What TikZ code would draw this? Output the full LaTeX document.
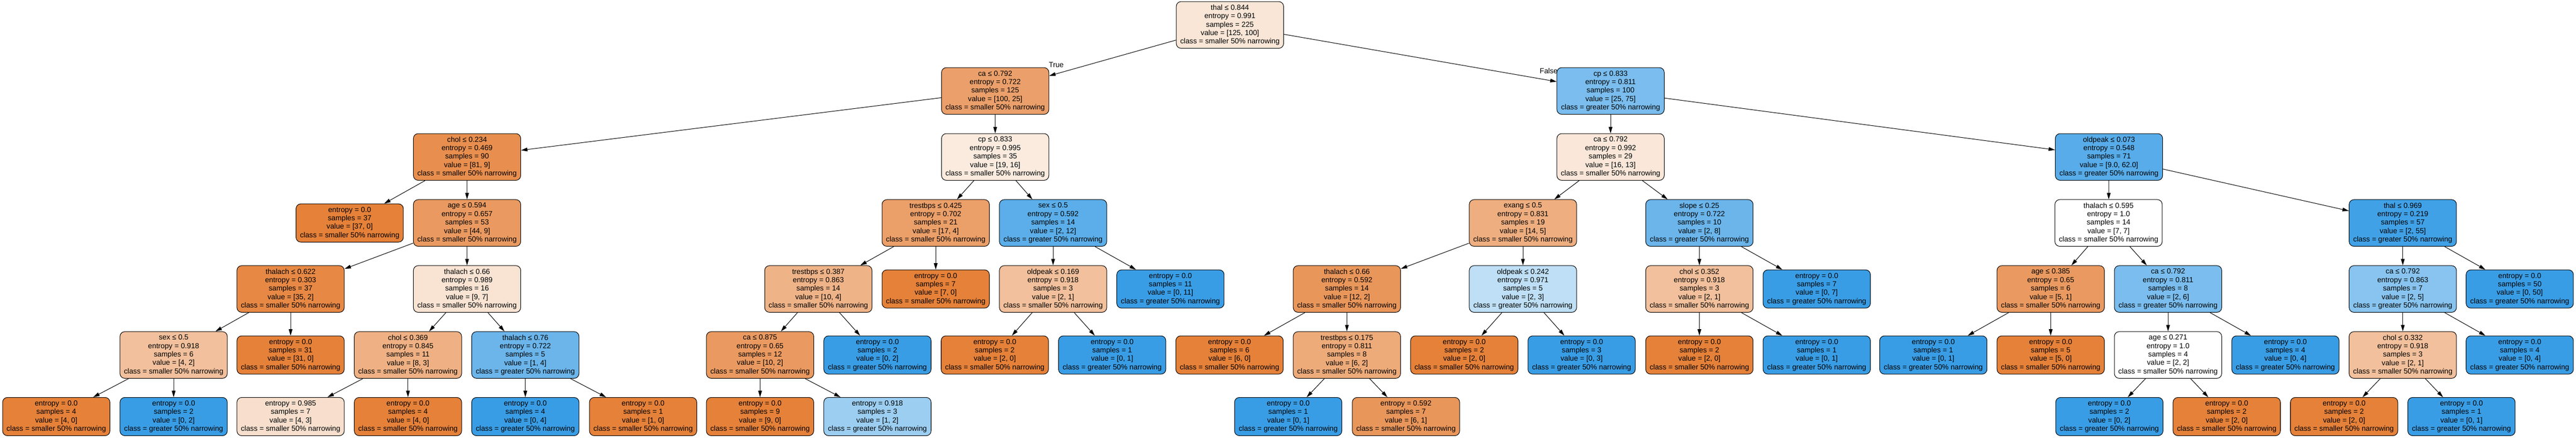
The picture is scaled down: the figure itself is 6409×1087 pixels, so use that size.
\documentclass[tikz,border=0pt]{standalone}
\usepackage{fontspec}
\setmainfont{Liberation Sans}
\usetikzlibrary{arrows.meta}
\definecolor{sko}{RGB}{229,129,57}
\definecolor{skb}{RGB}{57,157,229}
\tikzset{
  tbox/.style={draw=black, line width=0.65pt, rounded corners=6pt, align=center,
    minimum width=133.5pt, inner sep=2pt, font=\fontsize{9.1}{10.5}\selectfont},
  innerbox/.style={tbox, minimum height=58pt},
  leafbox/.style={tbox, minimum height=47.5pt},
  edgeline/.style={line width=0.65pt, -{Triangle[length=8pt,width=4.6pt]}},
  edgelabel/.style={font=\fontsize{9.1}{10.5}\selectfont, inner sep=0pt}
}
\newcommand{\TreeInner}[9]{\node[innerbox, fill=#4] (#1) at (#2,#3) {#5\\entropy = #6\\samples = #7\\value = [#8]\\class = #9 50\% narrowing};}
\newcommand{\TreeLeaf}[8]{\node[leafbox, fill=#4] (#1) at (#2,#3) {entropy = #5\\samples = #6\\value = [#7]\\class = #8 50\% narrowing};}
\begin{document}
\begin{tikzpicture}[x=0.5pt, y=-0.5pt]
\useasboundingbox[fill=white] (0,0) rectangle (6409,1087);
% rank 0
\TreeInner{root}{3060}{62}{sko!20}{thal ≤ 0.844}{0.991}{225}{125, 100}{smaller}
% rank 1
\TreeInner{caA}{2476}{226}{sko!75}{ca ≤ 0.792}{0.722}{125}{100, 25}{smaller}
\TreeInner{cpA}{4007}{226}{skb!67}{cp ≤ 0.833}{0.811}{100}{25, 75}{greater}
% rank 2
\TreeInner{cholA}{1162}{390}{sko!89}{chol ≤ 0.234}{0.469}{90}{81, 9}{smaller}
\TreeInner{cpB}{2476}{390}{sko!16}{cp ≤ 0.833}{0.995}{35}{19, 16}{smaller}
\TreeInner{caB}{4007}{390}{sko!19}{ca ≤ 0.792}{0.992}{29}{16, 13}{smaller}
\TreeInner{oldA}{5247}{390}{skb!85}{oldpeak ≤ 0.073}{0.548}{71}{9.0, 62.0}{greater}
% rank 3
\TreeLeaf{lfA}{870}{554}{sko}{0.0}{37}{37, 0}{smaller}
\TreeInner{ageA}{1162}{554}{sko!80}{age ≤ 0.594}{0.657}{53}{44, 9}{smaller}
\TreeInner{trA}{2328}{554}{sko!76}{trestbps ≤ 0.425}{0.702}{21}{17, 4}{smaller}
\TreeInner{sexA}{2620}{554}{skb!83}{sex ≤ 0.5}{0.592}{14}{2, 12}{greater}
\TreeInner{exA}{3789}{554}{sko!64}{exang ≤ 0.5}{0.831}{19}{14, 5}{smaller}
\TreeInner{slA}{4228}{554}{skb!75}{slope ≤ 0.25}{0.722}{10}{2, 8}{greater}
\TreeInner{thA}{5246}{554}{white}{thalach ≤ 0.595}{1.0}{14}{7, 7}{smaller}
\TreeInner{thlB}{5978}{554}{skb!96}{thal ≤ 0.969}{0.219}{57}{2, 55}{greater}
% rank 4
\TreeInner{thB}{723}{718}{sko!94}{thalach ≤ 0.622}{0.303}{37}{35, 2}{smaller}
\TreeInner{thC}{1162}{718}{sko!22}{thalach ≤ 0.66}{0.989}{16}{9, 7}{smaller}
\TreeInner{trB}{2036}{718}{sko!60}{trestbps ≤ 0.387}{0.863}{14}{10, 4}{smaller}
\TreeLeaf{lfB}{2328}{718}{sko}{0.0}{7}{7, 0}{smaller}
\TreeInner{olB}{2620}{718}{sko!50}{oldpeak ≤ 0.169}{0.918}{3}{2, 1}{smaller}
\TreeLeaf{lfC}{2912}{718}{skb}{0.0}{11}{0, 11}{greater}
\TreeInner{thD}{3351}{718}{sko!83}{thalach ≤ 0.66}{0.592}{14}{12, 2}{smaller}
\TreeInner{olC}{3789}{718}{skb!33}{oldpeak ≤ 0.242}{0.971}{5}{2, 3}{greater}
\TreeInner{chC}{4228}{718}{sko!50}{chol ≤ 0.352}{0.918}{3}{2, 1}{smaller}
\TreeLeaf{lfD}{4520}{718}{skb}{0.0}{7}{0, 7}{greater}
\TreeInner{agB}{5102}{718}{sko!80}{age ≤ 0.385}{0.65}{6}{5, 1}{smaller}
\TreeInner{caC}{5394}{718}{skb!67}{ca ≤ 0.792}{0.811}{8}{2, 6}{greater}
\TreeInner{caD}{5978}{718}{skb!60}{ca ≤ 0.792}{0.863}{7}{2, 5}{greater}
\TreeLeaf{lfE}{6269}{718}{skb}{0.0}{50}{0, 50}{greater}
% rank 5
\TreeInner{sxB}{432}{882}{sko!50}{sex ≤ 0.5}{0.918}{6}{4, 2}{smaller}
\TreeLeaf{lfF}{723}{882}{sko}{0.0}{31}{31, 0}{smaller}
\TreeInner{chD}{1015}{882}{sko!62}{chol ≤ 0.369}{0.845}{11}{8, 3}{smaller}
\TreeInner{thE}{1307}{882}{skb!75}{thalach ≤ 0.76}{0.722}{5}{1, 4}{greater}
\TreeInner{caE}{1891}{882}{sko!80}{ca ≤ 0.875}{0.65}{12}{10, 2}{smaller}
\TreeLeaf{lfG}{2183}{882}{skb}{0.0}{2}{0, 2}{greater}
\TreeLeaf{lfH}{2475}{882}{sko}{0.0}{2}{2, 0}{smaller}
\TreeLeaf{lfI}{2767}{882}{skb}{0.0}{1}{0, 1}{greater}
\TreeLeaf{lfJ}{3059}{882}{sko}{0.0}{6}{6, 0}{smaller}
\TreeInner{trC}{3351}{882}{sko!67}{trestbps ≤ 0.175}{0.811}{8}{6, 2}{smaller}
\TreeLeaf{lfK}{3643}{882}{sko}{0.0}{2}{2, 0}{smaller}
\TreeLeaf{lfL}{3935}{882}{skb}{0.0}{3}{0, 3}{greater}
\TreeLeaf{lfM}{4228}{882}{sko}{0.0}{2}{2, 0}{smaller}
\TreeLeaf{lfN}{4520}{882}{skb}{0.0}{1}{0, 1}{greater}
\TreeLeaf{lfO}{4810}{882}{skb}{0.0}{1}{0, 1}{greater}
\TreeLeaf{lfP}{5102}{882}{sko}{0.0}{5}{5, 0}{smaller}
\TreeInner{agC}{5394}{882}{white}{age ≤ 0.271}{1.0}{4}{2, 2}{smaller}
\TreeLeaf{lfQ}{5686}{882}{skb}{0.0}{4}{0, 4}{greater}
\TreeInner{chE}{5978}{882}{sko!50}{chol ≤ 0.332}{0.918}{3}{2, 1}{smaller}
\TreeLeaf{lfR}{6269}{882}{skb}{0.0}{4}{0, 4}{greater}
% rank 6
\TreeLeaf{lfS}{140}{1035}{sko}{0.0}{4}{4, 0}{smaller}
\TreeLeaf{lfT}{432}{1035}{skb}{0.0}{2}{0, 2}{greater}
\TreeLeaf{lfU}{723}{1035}{sko!25}{0.985}{7}{4, 3}{smaller}
\TreeLeaf{lfV}{1015}{1035}{sko}{0.0}{4}{4, 0}{smaller}
\TreeLeaf{lfW}{1307}{1035}{skb}{0.0}{4}{0, 4}{greater}
\TreeLeaf{lfX}{1600}{1035}{sko}{0.0}{1}{1, 0}{smaller}
\TreeLeaf{lfY}{1891}{1035}{sko}{0.0}{9}{9, 0}{smaller}
\TreeLeaf{lfZ}{2183}{1035}{skb!50}{0.918}{3}{1, 2}{greater}
\TreeLeaf{lfAA}{3205}{1035}{skb}{0.0}{1}{0, 1}{greater}
\TreeLeaf{lfAB}{3498}{1035}{sko!83}{0.592}{7}{6, 1}{smaller}
\TreeLeaf{lfAC}{5248}{1035}{skb}{0.0}{2}{0, 2}{greater}
\TreeLeaf{lfAD}{5540}{1035}{sko}{0.0}{2}{2, 0}{smaller}
\TreeLeaf{lfAE}{5832}{1035}{sko}{0.0}{2}{2, 0}{smaller}
\TreeLeaf{lfAF}{6124}{1035}{skb}{0.0}{1}{0, 1}{greater}
% edges
\foreach \p/\c in {root/caA, root/cpA, caA/cholA, caA/cpB, cpA/caB, cpA/oldA,
  cholA/lfA, cholA/ageA, cpB/trA, cpB/sexA, caB/exA, caB/slA, oldA/thA, oldA/thlB,
  ageA/thB, ageA/thC, trA/trB, trA/lfB, sexA/olB, sexA/lfC, exA/thD, exA/olC,
  slA/chC, slA/lfD, thA/agB, thA/caC, thlB/caD, thlB/lfE,
  thB/sxB, thB/lfF, thC/chD, thC/thE, trB/caE, trB/lfG, olB/lfH, olB/lfI,
  thD/lfJ, thD/trC, olC/lfK, olC/lfL, chC/lfM, chC/lfN, agB/lfO, agB/lfP,
  caC/agC, caC/lfQ, caD/chE, caD/lfR,
  sxB/lfS, sxB/lfT, chD/lfU, chD/lfV, thE/lfW, thE/lfX, caE/lfY, caE/lfZ,
  trC/lfAA, trC/lfAB, agC/lfAC, agC/lfAD, chE/lfAE, chE/lfAF}
  \draw[edgeline] (\p) -- (\c);
\node[edgelabel] (lblTrue) at (2628,161) {True};
\node[edgelabel] (lblFalse) at (3853,176) {False};
\end{tikzpicture}
\end{document}
